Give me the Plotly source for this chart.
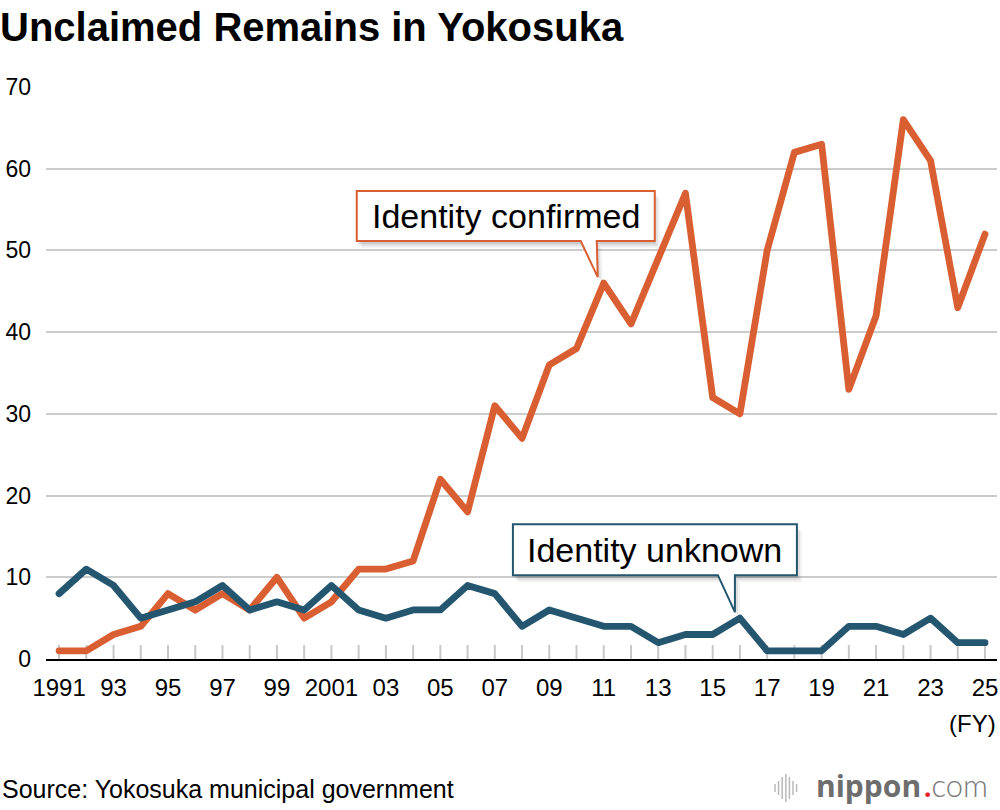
import plotly.graph_objects as go

# Unclaimed remains in Yokosuka, FY1991-2025
years = list(range(1991, 2026))
identity_confirmed = [1, 1, 3, 4, 8, 6, 8, 6, 10, 5,
                      7, 11, 11, 12, 22, 18, 31, 27, 36, 38,
                      46, 41, 49, 57, 32, 30, 50, 62, 63, 33,
                      42, 66, 61, 43, 52]
identity_unknown = [8, 11, 9, 5, 6, 7, 9, 6, 7, 6,
                    9, 6, 5, 6, 6, 9, 8, 4, 6, 5,
                    4, 4, 2, 3, 3, 5, 1, 1, 1, 4,
                    4, 3, 5, 2, 2]
tick_text = ["1991" if y == 1991 else "2001" if y == 2001 else
             (f"{y % 100:02d}" if (y - 1991) % 2 == 0 else "") for y in years]
y_ticks = [0, 10, 20, 30, 40, 50, 60, 70]

ORANGE = "#D95F33"
BLUE = "#245670"
FONT = "Liberation Sans"

W, H = 1000, 810
# plot area in pixels
PL, PR, PT, PB = 46, 997, 87, 659
X_RANGE = [1990.52, 2025.44]
Y_RANGE = [0, 70]


def dx(px):
    return X_RANGE[0] + (px - PL) / (PR - PL) * (X_RANGE[1] - X_RANGE[0])


def dy(py):
    return Y_RANGE[0] + (PB - py) / (PB - PT) * (Y_RANGE[1] - Y_RANGE[0])


def to_px(x, y):
    px = PL + (x - X_RANGE[0]) / (X_RANGE[1] - X_RANGE[0]) * (PR - PL)
    py = PB - (y - Y_RANGE[0]) / (Y_RANGE[1] - Y_RANGE[0]) * (PB - PT)
    return px, py


def paper_x(px):
    return (px - PL) / (PR - PL)


def paper_y(py):
    return (PB - py) / (PB - PT)


fig = go.Figure()

fig.add_trace(go.Scatter(x=years, y=identity_confirmed, mode="lines",
                         line=dict(color=ORANGE, width=6.8),
                         name="Identity confirmed", hoverinfo="x+y"))
fig.add_trace(go.Scatter(x=years, y=identity_unknown, mode="lines",
                         line=dict(color=BLUE, width=6.8),
                         name="Identity unknown", hoverinfo="x+y"))

shapes = []
annotations = []

# year ticks rising from the baseline
for yr in years:
    shapes.append(dict(type="line", xref="x", yref="y", x0=yr, x1=yr,
                       y0=0, y1=dy(PB - 14), layer="below",
                       line=dict(color="#c8c8c8", width=2)))

# speech-bubble callouts: (label, colour, year, series, offsets from tip in px)
callouts = [
    ("Identity confirmed", ORANGE, 2011, identity_confirmed, (-6, -6),
     dict(left=-241, right=57, top=-86, bottom=-36, nl=-17, nr=-1)),
    ("Identity unknown", BLUE, 2016, identity_unknown, (-5, -6),
     dict(left=-222, right=62, top=-88, bottom=-37, nl=-17, nr=0)),
]

for label, color, yr, series, off, b in callouts:
    ax, ay = to_px(yr, series[years.index(yr)])
    tx, ty = ax + off[0], ay + off[1]

    def pt(ox, oy, sx=0, sy=0):
        return f"{dx(tx + ox + sx)},{dy(ty + oy + sy)}"

    def bubble(sx=0, sy=0):
        return ("M " + pt(b["left"], b["top"], sx, sy) +
                " L " + pt(b["right"], b["top"], sx, sy) +
                " L " + pt(b["right"], b["bottom"], sx, sy) +
                " L " + pt(b["nr"], b["bottom"], sx, sy) +
                " L " + pt(0, 0, sx, sy) +
                " L " + pt(b["nl"], b["bottom"], sx, sy) +
                " L " + pt(b["left"], b["bottom"], sx, sy) + " Z")

    # soft shadow
    for s, op in [(7, 0.05), (5, 0.07), (3, 0.09)]:
        shapes.append(dict(type="path", path=bubble(s - 2, s), xref="x", yref="y",
                           fillcolor="black", opacity=op, line=dict(width=0),
                           layer="above"))
    shapes.append(dict(type="path", path=bubble(), xref="x", yref="y",
                       fillcolor="white", line=dict(color=color, width=2),
                       layer="above"))
    cx = tx + (b["left"] + b["right"]) / 2
    cy = ty + (b["top"] + b["bottom"]) / 2
    annotations.append(dict(x=dx(cx), y=dy(cy), xref="x", yref="y",
                            text=label, showarrow=False,
                            font=dict(family=FONT, size=34, color="black"),
                            xanchor="center", yanchor="middle"))

# (FY) unit label
annotations.append(dict(x=paper_x(998), y=paper_y(723), xref="paper", yref="paper",
                        text="(FY)", showarrow=False, xanchor="right", yanchor="middle",
                        font=dict(family=FONT, size=24, color="black")))
# source
annotations.append(dict(x=paper_x(0), y=paper_y(789), xref="paper", yref="paper",
                        text="Source: Yokosuka municipal government", showarrow=False,
                        xanchor="left", yanchor="middle",
                        font=dict(family=FONT, size=25, color="black")))
# nippon.com logo
annotations.append(dict(x=paper_x(923), y=paper_y(785), xref="paper", yref="paper",
                        text="<b>nippon</b>", showarrow=False,
                        xanchor="right", yanchor="middle",
                        font=dict(family="Open Sans", size=30, color="#6d6d6d")))
annotations.append(dict(x=paper_x(922), y=paper_y(785), xref="paper", yref="paper",
                        text="<span style='color:#e8202a'><b>.</b></span>com",
                        showarrow=False, xanchor="left", yanchor="middle",
                        font=dict(family="Lato", size=31, color="#7a7a7a", weight=300)))
bar_h = [8, 14, 22, 28, 22, 14, 8]
for i, h in enumerate(bar_h):
    bx = 775 + i * 3.6
    shapes.append(dict(type="line", xref="paper", yref="paper",
                       x0=paper_x(bx), x1=paper_x(bx),
                       y0=paper_y(788 - h / 2), y1=paper_y(788 + h / 2),
                       line=dict(color="#bdbdbd", width=1.6)))

fig.update_layout(
    width=W, height=H,
    margin=dict(l=PL, r=W - PR, t=PT, b=H - PB, pad=0),
    paper_bgcolor="white", plot_bgcolor="white",
    showlegend=False,
    title=dict(text="<b>Unclaimed Remains in Yokosuka</b>", xref="container",
               yref="container", x=0.0, xanchor="left", y=1 - 27 / H,
               yanchor="middle", font=dict(family=FONT, size=40, color="black")),
    xaxis=dict(range=X_RANGE, tickmode="array", tickvals=years, ticktext=tick_text,
               ticks="", showgrid=False, zeroline=False, showline=True,
               linecolor="black", linewidth=2, ticklabelstandoff=6,
               tickfont=dict(family=FONT, size=24, color="black"), fixedrange=True),
    yaxis=dict(range=Y_RANGE, tickvals=y_ticks, showgrid=True, gridcolor="#cccccc",
               gridwidth=2, zeroline=False, showline=False, ticks="",
               ticklabelstandoff=14,
               tickfont=dict(family=FONT, size=23, color="black"), fixedrange=True),
    annotations=annotations,
    shapes=shapes,
)

# drop the page margin so the figure sits at the window's top-left; round line ends
post = ("document.body.style.margin='0';document.body.style.overflow='hidden';"
        "document.querySelectorAll('.scatterlayer path.js-line').forEach("
        "function(p){p.style.strokeLinecap='round';p.style.strokeLinejoin='round';});")
fig.write_html("out.html", post_script=post, config={"displayModeBar": False})
